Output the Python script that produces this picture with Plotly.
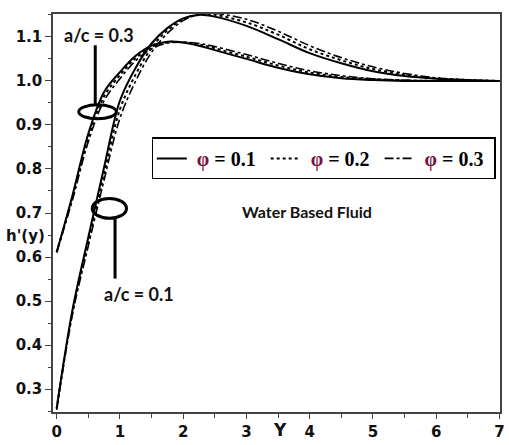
import plotly.graph_objects as go

# ---- data ----
Y = [0, 0.25, 0.5, 0.75, 1.0, 1.25, 1.5, 1.75, 2.0, 2.25, 2.5, 3.0, 3.5, 4.0, 4.5, 5.0, 5.5, 6.0, 6.5, 7.0]

# a/c = 0.1
h_ac01_phi01 = [0.257, 0.48, 0.645, 0.804, 0.955, 1.03, 1.085, 1.12, 1.142, 1.150, 1.146, 1.125, 1.095, 1.063, 1.04, 1.022, 1.011, 1.005, 1.002, 1.0]
h_ac01_phi02 = [0.255, 0.475, 0.635, 0.79, 0.935, 1.015, 1.075, 1.115, 1.14, 1.151, 1.15, 1.133, 1.105, 1.072, 1.047, 1.027, 1.014, 1.006, 1.002, 1.0]
h_ac01_phi03 = [0.253, 0.47, 0.625, 0.775, 0.915, 1.0, 1.065, 1.108, 1.137, 1.151, 1.153, 1.14, 1.113, 1.08, 1.053, 1.032, 1.017, 1.007, 1.002, 1.0]

# a/c = 0.3
h_ac03_phi01 = [0.611, 0.74, 0.88, 0.975, 1.02, 1.057, 1.08, 1.089, 1.087, 1.08, 1.07, 1.05, 1.03, 1.015, 1.006, 1.002, 1.0, 1.0, 1.0, 1.0]
h_ac03_phi02 = [0.611, 0.735, 0.872, 0.965, 1.013, 1.052, 1.077, 1.088, 1.088, 1.083, 1.074, 1.055, 1.035, 1.019, 1.009, 1.004, 1.001, 1.0, 1.0, 1.0]
h_ac03_phi03 = [0.611, 0.73, 0.862, 0.955, 1.005, 1.046, 1.073, 1.086, 1.088, 1.085, 1.078, 1.06, 1.04, 1.023, 1.012, 1.005, 1.002, 1.0, 1.0, 1.0]

phi_labels = ["φ = 0.1", "φ = 0.2", "φ = 0.3"]
x_ticks = [0, 1, 2, 3, 4, 5, 6, 7]
y_ticks = [0.3, 0.4, 0.5, 0.6, 0.7, 0.8, 0.9, 1.0, 1.1]

styles = [dict(dash="solid", width=2), dict(dash="dot", width=2), dict(dash="dashdot", width=1.6)]

fig = go.Figure()
groups = [
    (h_ac01_phi01, h_ac01_phi02, h_ac01_phi03),
    (h_ac03_phi01, h_ac03_phi02, h_ac03_phi03),
]
for gi, grp in enumerate(groups):
    for i, series in enumerate(grp):
        lab = "\u00a0" + phi_labels[i].replace("φ", "<span style='color:#7a1040'>φ</span>") + "\u00a0"
        fig.add_trace(go.Scatter(
            x=Y, y=series, mode="lines", line_shape="spline",
            line=dict(color="black", **styles[i]),
            name=lab, legendgroup=str(i), showlegend=(gi == 0),
        ))

ann_font = dict(family="Lato", size=18, color="#111")
fig.update_layout(
    width=509, height=445,
    margin=dict(l=53, r=4, t=14, b=31),
    paper_bgcolor="white", plot_bgcolor="white",
    showlegend=True,
    legend=dict(
        orientation="h", x=0.221, y=0.69, xanchor="left", yanchor="top",
        bgcolor="white", bordercolor="black", borderwidth=1.5,
        font=dict(family="Liberation Serif", size=20, color="black", weight="bold"),
        itemwidth=30, tracegroupgap=0,
    ),
    xaxis=dict(
        range=[-0.058, 7.01], tickvals=x_ticks, ticks="outside", ticklen=5,
        tickcolor="#444", showgrid=False, zeroline=False,
        showline=True, linecolor="#444", linewidth=1.5, mirror=True,
        tickfont=dict(family="DejaVu Sans", size=15, color="#111", weight="bold"),
        minor=dict(dtick=0.5, tick0=0, ticks="outside", ticklen=4, tickcolor="#444"),
    ),
    yaxis=dict(
        range=[0.248, 1.152], tickvals=y_ticks, tickformat=".1f", ticks="outside", ticklen=6,
        tickcolor="#444", showgrid=False, zeroline=False,
        showline=True, linecolor="#444", linewidth=1.5, mirror=True,
        tickfont=dict(family="DejaVu Sans", size=15, color="#111", weight="bold"),
        minor=dict(dtick=0.05, tick0=0, ticks="outside", ticklen=3, tickcolor="#444"),
    ),
    annotations=[
        dict(text="<b>a/c = 0.3</b>", x=0.677, y=1.104, xref="x", yref="y", showarrow=False, font=ann_font),
        dict(text="<b>a/c = 0.1</b>", x=1.30, y=0.517, xref="x", yref="y", showarrow=False, font=ann_font),
        dict(text="<b>Water Based Fluid</b>", x=3.96, y=0.704, xref="x", yref="y", showarrow=False,
             font=dict(family="Lato", size=16, color="#111")),
        dict(text="<b>h'(y)</b>", x=-0.062, y=0.4425, xref="paper", yref="paper", showarrow=False,
             xanchor="center", yanchor="middle",
             font=dict(family="DejaVu Sans", size=15, color="#111")),
        dict(text="<b>Y</b>", x=0.507, y=-0.045, xref="paper", yref="paper", showarrow=False,
             xanchor="center", yanchor="middle",
             font=dict(family="DejaVu Sans", size=17, color="#111")),
    ],
    shapes=[
        dict(type="circle", xref="x", yref="y", x0=0.349, x1=0.943, y0=0.914, y1=0.9456,
             line=dict(color="black", width=3)),
        dict(type="line", xref="x", yref="y", x0=0.61, x1=0.61, y0=0.9456, y1=1.081,
             line=dict(color="black", width=3)),
        dict(type="circle", xref="x", yref="y", x0=0.563, x1=1.104, y0=0.688, y1=0.733,
             line=dict(color="black", width=3)),
        dict(type="line", xref="x", yref="y", x0=0.923, x1=0.923, y0=0.551, y1=0.688,
             line=dict(color="black", width=3)),
    ],
)

fig.write_html(
    "out.html",
    config={"displayModeBar": False},
    post_script="document.body.style.margin='0';document.body.style.overflow='hidden';",
)
